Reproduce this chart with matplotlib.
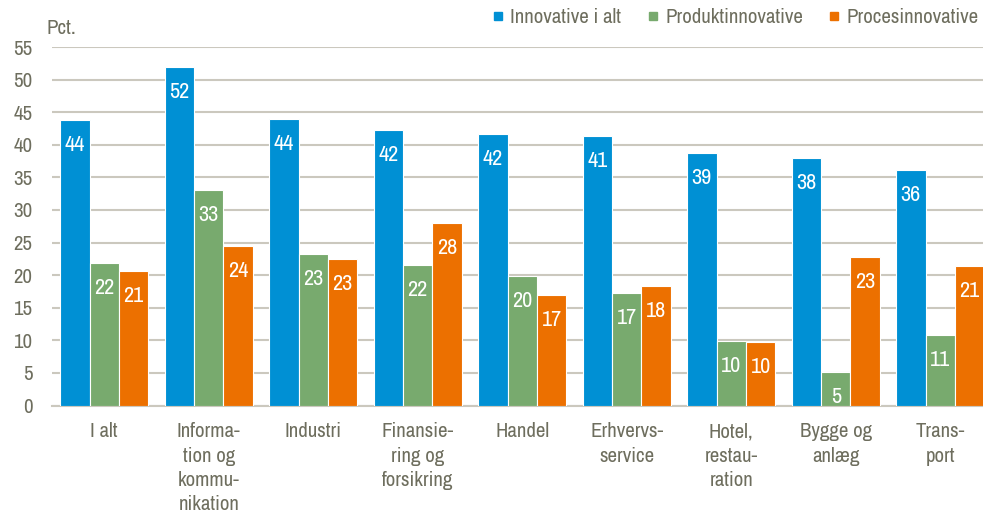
#!/usr/bin/env python3
import numpy as np
import matplotlib
matplotlib.use("Agg")
import matplotlib.pyplot as plt
from matplotlib.lines import Line2D

# Data
categories = ["I alt", "Informa-\ntion og\nkommu-\nnikation", "Industri", "Finansie-\nring og\nforsikring",
              "Handel", "Erhvervs-\nservice", "Hotel,\nrestau-\nration", "Bygge og\nanlæg", "Trans-\nport"]
series = ["Innovative i alt", "Produktinnovative", "Procesinnovative"]
innovative = [43.8, 51.9, 44.0, 42.3, 41.7, 41.3, 38.7, 38.0, 36.2]
produkt = [21.8, 33.0, 23.2, 21.5, 19.9, 17.2, 9.9, 5.1, 10.8]
proces = [20.6, 24.4, 22.5, 28.0, 16.9, 18.3, 9.7, 22.8, 21.4]
innovative_lbl = [44, 52, 44, 42, 42, 41, 39, 38, 36]
produkt_lbl = [22, 33, 23, 22, 20, 17, 10, 5, 11]
proces_lbl = [21, 24, 23, 28, 17, 18, 10, 23, 21]

colors = ["#0090D4", "#78AA6E", "#EC7000"]
txt = "#6E6E5E"
grid = "#CBC8BE"

plt.rcParams['font.family'] = ['Archivo Narrow', 'Liberation Sans', 'DejaVu Sans']

fig = plt.figure(figsize=(9.83, 5.13), dpi=100)
ax = fig.add_axes([52 / 983, 107.5 / 513, 940.5 / 983, 358.5 / 513])

x = np.arange(len(categories))
w = 0.282
vals = [innovative, produkt, proces]
lbls = [innovative_lbl, produkt_lbl, proces_lbl]
for i in range(3):
  bars = ax.bar(x + (i - 1) * w, vals[i], w, color=colors[i], edgecolor="white", linewidth=0.8, zorder=3)
  for b, l in zip(bars, lbls[i]):
    ax.annotate(str(l), (b.get_x() + b.get_width() / 2, b.get_height()), xytext=(0, -18),
                textcoords="offset points", ha="center", va="center", color="white", fontsize=16, zorder=4)

ax.set_xlim(-0.5, len(categories) - 0.5)
ax.set_ylim(0, 55)
ax.set_yticks(range(0, 56, 5))
ax.set_xticks(x)
ax.set_xticklabels(categories, fontsize=15, color=txt, linespacing=1.36)
ax.tick_params(axis="y", length=0, pad=14, labelsize=15, labelcolor=txt)
ax.tick_params(axis="x", length=0, pad=12)
ax.grid(axis="y", color=grid, linewidth=1.5, zorder=0)
for s in ["top", "right", "left"]:
  ax.spines[s].set_visible(False)
ax.spines["bottom"].set_color(grid)
ax.spines["bottom"].set_linewidth(1.5)

fig.text(47 / 983, 1 - 34 / 513, "Pct.", fontsize=15, color=txt, va="baseline")

handles = [Line2D([], [], marker="s", linestyle="none", markersize=6, color=c) for c in colors]
fig.legend(handles, series, loc="upper right", bbox_to_anchor=(979 / 983, 1 - 8 / 513), ncol=3,
           frameon=False, fontsize=15, labelcolor=txt, handletextpad=0.1, columnspacing=1.0,
           handlelength=1.0, borderaxespad=0, borderpad=0)

fig.savefig("out.png", dpi=100)
